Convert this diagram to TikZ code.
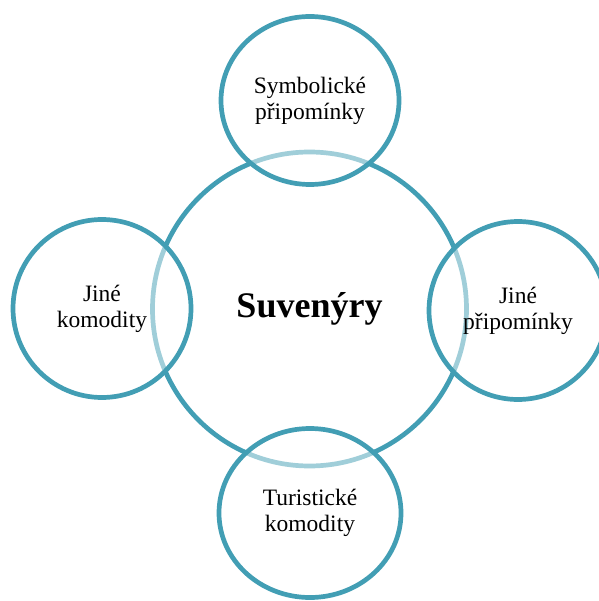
\documentclass[tikz,border=0pt]{standalone}
\usepackage{fontspec}
\setmainfont{Liberation Serif}
\usetikzlibrary{shapes.geometric}
\definecolor{ringblue}{HTML}{429EB4}
\begin{document}
\begin{tikzpicture}[x=1pt,y=-1pt,
  ringline/.style={draw=ringblue, line width=4.7pt, ellipse, inner sep=0pt, outer sep=0pt},
  hub/.style={ringline, minimum width=314pt, minimum height=314pt,
    font=\fontsize{36}{40}\selectfont\bfseries},
  petal/.style={ringline, minimum width=178pt, minimum height=#1, fill=white,
    fill opacity=0.5, text opacity=1, align=center, font=\fontsize{23.5}{26}\selectfont},
  petal/.default=178pt]
\useasboundingbox (0,0) rectangle (598,601);
% central ring
\node[hub] (centre) at (309.5,309) {Suvenýry};
% four surrounding rings, half-transparent white inside
\node[petal=168pt] (top)    at (310,100.5) {Symbolické\\připomínky};
\node[petal]       (left)   at (102,308.5) {Jiné\\komodity};
\node[petal]       (right)  at (518,310.5) {Jiné\\připomínky};
\node[petal=169pt, minimum width=182pt] (bottom) at (310,513) {Turistické\\komodity};
\end{tikzpicture}
\end{document}
